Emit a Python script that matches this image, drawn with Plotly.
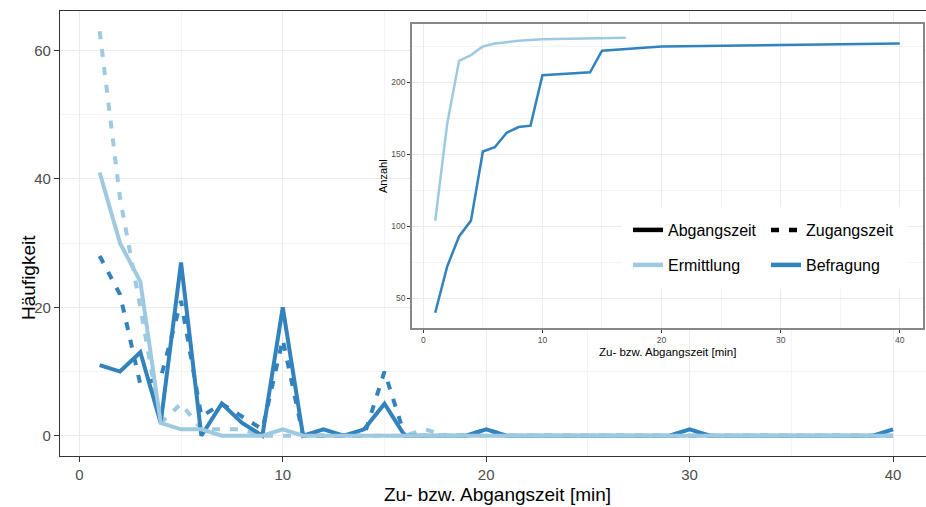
import plotly.graph_objects as go

# ---------------- data ----------------
minutes = list(range(1, 41))

# Ermittlung (light blue)
erm_abgang = [41, 30, 24, 2, 1, 1, 0, 0, 0, 1,
              0, 0, 0, 0, 0, 0, 0, 0, 0, 0,
              0, 0, 0, 0, 0, 0, 0, 0, 0, 0,
              0, 0, 0, 0, 0, 0, 0, 0, 0, 0]
erm_zugang = [63, 37, 20, 2, 5, 1, 1, 1, 0, 0,
              0, 0, 0, 0, 0, 0, 1, 0, 0, 0,
              0, 0, 0, 0, 0, 0, 0, 0, 0, 0,
              0, 0, 0, 0, 0, 0, 0, 0, 0, 0]
# Befragung (dark blue)
bef_abgang = [11, 10, 13, 2, 27, 0, 5, 2, 0, 20,
              0, 1, 0, 1, 5, 0, 0, 0, 0, 1,
              0, 0, 0, 0, 0, 0, 0, 0, 0, 1,
              0, 0, 0, 0, 0, 0, 0, 0, 0, 1]
bef_zugang = [28, 22, 8, 9, 21, 3, 5, 3, 1, 15,
              0, 0, 0, 0, 10, 0, 0, 0, 0, 1,
              0, 0, 0, 0, 0, 0, 0, 0, 0, 0,
              0, 0, 0, 0, 0, 0, 0, 0, 0, 0]

# Inset: cumulative count (Anzahl)
inset_x_erm = [1, 2, 3, 4, 5, 6, 7, 8, 10, 17]
inset_y_erm = [104, 171, 215, 219, 225, 227, 228, 229, 230, 231]
inset_x_bef = [1, 2, 3, 4, 5, 6, 7, 8, 9, 10, 12, 14, 15, 20, 30, 40]
inset_y_bef = [40, 72, 93, 104, 152, 155, 165, 169, 170, 205, 206, 207, 222, 225, 226, 227]

main_xticks = [0, 10, 20, 30, 40]
main_yticks = [0, 20, 40, 60]
inset_xticks = [0, 10, 20, 30, 40]
inset_yticks = [50, 100, 150, 200]

legend_labels = ["Abgangszeit", "Zugangszeit", "Ermittlung", "Befragung"]

# ---------------- style ----------------
LIGHT = "#9ecae1"
DARK = "#3182bd"
FONT = "Liberation Sans, Arial, sans-serif"
DASH = "8px,10px"

W, H = 926, 507
ML, MR, MT, MB = 60, 0, 11, 51
PW = W - ML - MR
PH = H - MT - MB


def px2x(px):
    return (px - ML) / PW


def px2y(py):
    return (H - MB - py) / PH


fig = go.Figure()

# main traces
fig.add_trace(go.Scatter(x=minutes, y=erm_zugang, mode="lines", showlegend=False,
                         line=dict(color=LIGHT, width=4, dash=DASH), xaxis="x", yaxis="y"))
fig.add_trace(go.Scatter(x=minutes, y=bef_zugang, mode="lines", showlegend=False,
                         line=dict(color=DARK, width=4, dash=DASH), xaxis="x", yaxis="y"))
fig.add_trace(go.Scatter(x=minutes, y=bef_abgang, mode="lines", showlegend=False,
                         line=dict(color=DARK, width=4), xaxis="x", yaxis="y"))
fig.add_trace(go.Scatter(x=minutes, y=erm_abgang, mode="lines", showlegend=False,
                         line=dict(color=LIGHT, width=4), xaxis="x", yaxis="y"))

# inset traces
fig.add_trace(go.Scatter(x=inset_x_erm, y=inset_y_erm, mode="lines", showlegend=False,
                         line=dict(color=LIGHT, width=2.5), xaxis="x2", yaxis="y2"))
fig.add_trace(go.Scatter(x=inset_x_bef, y=inset_y_bef, mode="lines", showlegend=False,
                         line=dict(color=DARK, width=2.5), xaxis="x2", yaxis="y2"))

# legend entries (four single-item legends laid out as 2x2)
leg_specs = [
    (legend_labels[0], "black", "solid", "legend"),
    (legend_labels[1], "black", DASH, "legend2"),
    (legend_labels[2], LIGHT, "solid", "legend3"),
    (legend_labels[3], DARK, "solid", "legend4"),
]
for name, col, dash, leg in leg_specs:
    fig.add_trace(go.Scatter(x=[None], y=[None], mode="lines", name=name,
                             line=dict(color=col, width=4.5, dash=dash),
                             xaxis="x2", yaxis="y2", legend=leg, showlegend=True))

leg_common = dict(bgcolor="rgba(0,0,0,0)", borderwidth=0,
                  font=dict(family=FONT, size=16, color="black"),
                  xanchor="left", yanchor="middle", itemclick=False)
col1, col2 = 628, 766
row1, row2 = 230, 265

# white legend box
fig.add_shape(type="rect", xref="paper", yref="paper",
              x0=px2x(622), x1=px2x(907), y0=px2y(289), y1=px2y(207),
              fillcolor="white", line=dict(width=0), layer="above")

grid_major = "#ebebeb"
grid_minor = "#f3f3f3"

fig.update_layout(
    width=W, height=H,
    margin=dict(l=ML, r=MR, t=MT, b=MB, pad=0),
    paper_bgcolor="white", plot_bgcolor="white",
    font=dict(family=FONT),
    hovermode=False,
    legend=dict(x=px2x(col1), y=px2y(row1), **leg_common),
    legend2=dict(x=px2x(col2), y=px2y(row1), **leg_common),
    legend3=dict(x=px2x(col1), y=px2y(row2), **leg_common),
    legend4=dict(x=px2x(col2), y=px2y(row2), **leg_common),
    xaxis=dict(
        domain=[0, 1], range=[-0.95, 41.62],
        tickvals=main_xticks, ticks="outside", ticklen=5, tickwidth=1.1, tickcolor="#333",
        tickfont=dict(family=FONT, size=15, color="#4d4d4d"),
        showgrid=True, gridcolor=grid_major, gridwidth=1.1,
        minor=dict(dtick=5, tick0=0, showgrid=True, gridcolor=grid_minor, gridwidth=0.6, ticks=""),
        showline=True, linecolor="#333", linewidth=1.2, mirror=True,
        zeroline=False, anchor="y",
    ),
    yaxis=dict(
        domain=[0, 1], range=[-3.15, 66.15],
        tickvals=main_yticks, ticks="outside", ticklen=5, tickwidth=1.1, tickcolor="#333",
        tickfont=dict(family=FONT, size=15, color="#4d4d4d"),
        showgrid=True, gridcolor=grid_major, gridwidth=1.1,
        minor=dict(dtick=10, tick0=0, showgrid=True, gridcolor=grid_minor, gridwidth=0.6, ticks=""),
        showline=True, linecolor="#333", linewidth=1.2, mirror=False,
        zeroline=False, anchor="x",
    ),
    xaxis2=dict(
        domain=[px2x(412), px2x(923)], range=[-0.95, 41.95],
        tickvals=inset_xticks, ticks="outside", ticklen=3, tickwidth=1, tickcolor="#333",
        tickfont=dict(family=FONT, size=8.5, color="#4d4d4d"),
        showgrid=True, gridcolor=grid_major, gridwidth=1,
        minor=dict(dtick=5, tick0=0, showgrid=True, gridcolor=grid_minor, gridwidth=0.5, ticks=""),
        showline=True, linecolor="#888", linewidth=1.5, mirror=True,
        zeroline=False, anchor="y2",
    ),
    yaxis2=dict(
        domain=[px2y(328), px2y(24)], range=[29.4, 240.6],
        tickvals=inset_yticks, ticks="outside", ticklen=3, tickwidth=1, tickcolor="#333",
        tickfont=dict(family=FONT, size=8.5, color="#4d4d4d"),
        showgrid=True, gridcolor=grid_major, gridwidth=1,
        minor=dict(dtick=25, tick0=0, showgrid=True, gridcolor=grid_minor, gridwidth=0.5, ticks=""),
        showline=True, linecolor="#888", linewidth=1.5, mirror=True,
        zeroline=False, anchor="x2",
    ),
    annotations=[
        dict(text="Zu- bzw. Abgangszeit [min]", xref="paper", yref="paper",
             x=px2x(497), y=px2y(494), showarrow=False, xanchor="center", yanchor="middle",
             font=dict(family=FONT, size=19, color="black")),
        dict(text="Häufigkeit", xref="paper", yref="paper",
             x=px2x(28), y=px2y(278), showarrow=False, textangle=-90,
             xanchor="center", yanchor="middle",
             font=dict(family=FONT, size=19, color="black")),
        dict(text="Zu- bzw. Abgangszeit [min]", xref="paper", yref="paper",
             x=px2x(667.5), y=px2y(352), showarrow=False, xanchor="center", yanchor="middle",
             font=dict(family=FONT, size=11.5, color="black")),
        dict(text="Anzahl", xref="paper", yref="paper",
             x=px2x(383), y=px2y(176), showarrow=False, textangle=-90,
             xanchor="center", yanchor="middle",
             font=dict(family=FONT, size=11, color="black")),
    ],
)

fig.write_html(
    "out.html",
    config={"displayModeBar": False, "staticPlot": False},
    post_script="document.body.style.margin='0px';document.body.style.padding='0px';",
)
